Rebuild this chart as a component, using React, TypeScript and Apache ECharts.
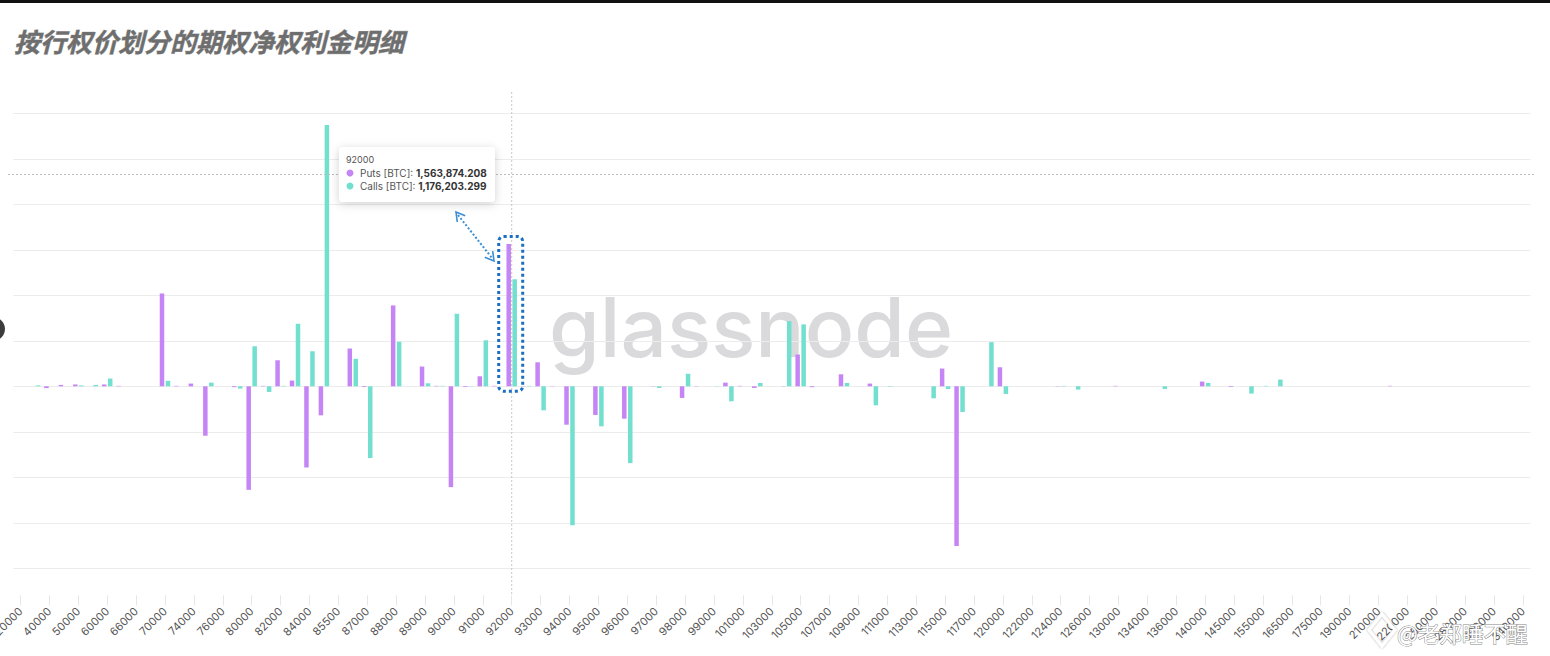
import React, { useEffect, useRef } from 'react';
import * as echarts from 'echarts';

const title = '按行权价划分的期权净权利金明细';

const categories = [
  '20000', '30000', '40000', '45000', '50000', '55000', '60000', '65000', '66000', '68000',
  '70000', '72000', '74000', '75000', '76000', '78000', '80000', '81000', '82000', '83000',
  '84000', '85000', '85500', '86000', '87000', '87500', '88000', '88500', '89000', '89500',
  '90000', '90500', '91000', '91500', '92000', '92500', '93000', '93500', '94000', '94500',
  '95000', '95500', '96000', '96500', '97000', '97500', '98000', '98500', '99000', '100000',
  '101000', '102000', '103000', '104000', '105000', '106000', '107000', '108000', '109000', '110000',
  '111000', '112000', '113000', '114000', '115000', '116000', '117000', '118000', '120000', '121000',
  '122000', '123000', '124000', '125000', '126000', '128000', '130000', '132000', '134000', '135000',
  '136000', '138000', '140000', '142000', '145000', '150000', '155000', '160000', '165000', '170000',
  '175000', '180000', '190000', '200000', '210000', '215000', '220000', '240000', '250000', '260000',
  '280000', '290000', '300000', '320000', '340000',
];

const puts = [
  0, 0, -20000, 15000, 20000, 0, 20000, 5000, 0, 0,
  1020000, 5000, 30000, -543000, 0, -10000, -1138000, 5000, 286000, 63000,
  -892000, -319000, 0, 415000, -8000, 0, 889000, 0, 217000, 5000,
  -1108000, -8000, 110000, 5000, 1563874.208, 3000, 264000, -3000, -422000, 0,
  -315000, 0, -356000, 0, 3000, 0, -128000, 3000, 0, 40000,
  5000, -18000, 0, 3000, 349000, -10000, 0, 132000, 0, 30000,
  0, 0, 0, 0, 195000, -1754000, 0, 0, 209000, 0,
  0, 0, 3000, 0, 0, 0, 5000, 0, 0, 0,
  0, 0, 52000, 0, -8000, 0, 0, 0, 0, 0,
  0, 0, 0, 0, 0, 5000, 0, 0, 0, 0,
  0, 0, 0, 0, 0,
];

const calls = [
  0, 10000, 0, 0, 10000, 15000, 85000, 0, 0, 0,
  60000, 0, 0, 40000, 0, -25000, 440000, -62000, 5000, 687000,
  385000, 2871000, 0, 302000, -789000, 0, 489000, 0, 33000, 5000,
  797000, -3000, 505000, 0, 1176203.299, 5000, -264000, 0, -1527000, 0,
  -440000, 0, -844000, 0, -18000, 0, 138000, 0, 3000, -165000,
  0, 37000, 0, 716000, 680000, 0, 0, 37000, 0, -209000,
  -5000, 0, 0, -132000, -29000, -282000, 0, 485000, -84000, 0,
  0, 0, 5000, -36000, 0, 0, 0, 0, 0, -29000,
  0, 0, 37000, 0, 0, -80000, 5000, 74000, 0, 0,
  0, 0, 0, 0, 0, 0, 0, 0, 0, 0,
  0, 0, 0, 0, 0,
];

const yMin = -2000000;
const yMax = 3000000;
const yInterval = 500000;
const hoverIndex = 34;
const seriesNames = ['Puts [BTC]', 'Calls [BTC]'];
const PURPLE = '#c585f5';
const TEAL = '#72dfcf';

const fmt = (v: number) =>
  v.toLocaleString('en-US', { minimumFractionDigits: 3, maximumFractionDigits: 3 });

export default function App() {
  const ref = useRef<HTMLDivElement>(null);
  useEffect(() => {
    const chart = echarts.init(ref.current!, undefined, { renderer: 'svg' });
    chart.setOption({
      animation: false,
      grid: {
        left: 13.3,
        right: 19.8,
        top: 113.3,
        bottom: 87.7,
        containLabel: false,
        outerBoundsMode: 'none',
      },
      xAxis: {
        type: 'category',
        data: categories,
        offset: 27,
        axisLine: { show: false, onZero: false },
        axisTick: {
          show: true,
          interval: 1,
          alignWithLabel: true,
          length: 10,
          lineStyle: { color: '#e6e6e6' },
        },
        axisLabel: {
          interval: 1,
          rotate: 45,
          fontSize: 11,
          color: '#555',
          fontFamily: 'Inter',
          margin: 14,
        },
        splitLine: { show: false },
      },
      yAxis: {
        type: 'value',
        min: yMin,
        max: yMax,
        interval: yInterval,
        axisLabel: { show: false },
        axisLine: { show: false },
        axisTick: { show: false },
        splitLine: { lineStyle: { color: '#ececec', width: 1 } },
      },
      series: [
        {
          name: seriesNames[0],
          type: 'bar',
          data: puts,
          barWidth: 4.5,
          barGap: '33%',
          itemStyle: { color: PURPLE },
          z: 3,
        },
        {
          name: seriesNames[1],
          type: 'bar',
          data: calls,
          barWidth: 4.5,
          barGap: '33%',
          itemStyle: { color: TEAL },
          z: 3,
        },
      ],
    });

    const [cx, pTop] = chart.convertToPixel({ gridIndex: 0 }, [hoverIndex, puts[hoverIndex]]) as number[];
    const [, zeroY] = chart.convertToPixel({ gridIndex: 0 }, [hoverIndex, 0]) as number[];

    const arrowColor = '#3b8ed2';
    const graphics: any[] = [
      {
        type: 'text',
        x: 751,
        y: 327,
        z: -5,
        style: {
          text: 'glassnode',
          fontSize: 82,
          fontWeight: 500,
          fontFamily: 'Inter',
          fill: '#dadadc',
          align: 'center',
          verticalAlign: 'middle',
        },
      },
      { type: 'rect', shape: { x: 0, y: 0, width: 1550, height: 3 }, style: { fill: '#111' }, z: 50 },
      {
        type: 'text',
        x: 14,
        y: 40,
        z: 50,
        style: {
          text: title,
          fontSize: 26,
          fontWeight: 'bold',
          fontStyle: 'italic',
          fontFamily: '"Noto Sans CJK SC"',
          fill: '#6e6e6e',
          stroke: 'rgba(90,90,90,0.5)',
          lineWidth: 0.8,
          verticalAlign: 'middle',
        },
      },
      { type: 'circle', shape: { cx: -7, cy: 329, r: 12 }, style: { fill: '#3c3c3c' }, z: 50 },
      {
        type: 'line',
        z: 10,
        shape: { x1: cx, y1: 92, x2: cx, y2: 596 },
        style: { stroke: '#c6c6c6', lineWidth: 1, lineDash: [2, 2] },
      },
      {
        type: 'line',
        z: 10,
        shape: { x1: 8, y1: 174.5, x2: 1535, y2: 174.5 },
        style: { stroke: '#bdbdbd', lineWidth: 1, lineDash: [2, 2] },
      },
      {
        type: 'rect',
        z: 20,
        shape: { x: cx - 13, y: pTop - 7.5, width: 24, height: zeroY + 5 - (pTop - 7.5), r: 5 },
        style: { fill: 'none', stroke: '#1b6ec2', lineWidth: 3, lineDash: [3, 3] },
      },
      {
        type: 'line',
        z: 20,
        shape: { x1: 458, y1: 215, x2: 492, y2: 258 },
        style: { stroke: arrowColor, lineWidth: 2, lineDash: [2, 2] },
      },
      {
        type: 'polyline',
        z: 20,
        shape: { points: [[457.3, 222], [456, 212], [465.2, 215.8]] },
        style: { stroke: arrowColor, lineWidth: 1.6, fill: 'none' },
      },
      {
        type: 'polyline',
        z: 20,
        shape: { points: [[492.7, 251.1], [494, 261], [484.8, 257.2]] },
        style: { stroke: arrowColor, lineWidth: 1.6, fill: 'none' },
      },
      {
        type: 'group',
        z: 30,
        children: [
          {
            type: 'rect',
            z: 30,
            shape: { x: 339, y: 147, width: 156, height: 55, r: 4 },
            style: {
              fill: '#fff',
              shadowBlur: 10,
              shadowColor: 'rgba(0,0,0,0.18)',
              shadowOffsetY: 2,
            },
          },
          {
            type: 'text',
            z: 31,
            x: 346,
            y: 159,
            style: {
              text: categories[hoverIndex],
              fontSize: 9,
              fontFamily: 'Inter',
              fill: '#555',
              verticalAlign: 'middle',
            },
          },
          { type: 'circle', z: 31, shape: { cx: 350, cy: 173, r: 3.5 }, style: { fill: PURPLE } },
          {
            type: 'text',
            z: 31,
            x: 360,
            y: 173,
            style: {
              text: `{a|${seriesNames[0]}: }{b|${fmt(puts[hoverIndex])}}`,
              verticalAlign: 'middle',
              rich: {
                a: { fontSize: 10, fontFamily: 'Inter', fill: '#555' },
                b: { fontSize: 10, fontFamily: 'Inter', fontWeight: 'bold', fill: '#333' },
              },
            },
          },
          { type: 'circle', z: 31, shape: { cx: 350, cy: 186, r: 3.5 }, style: { fill: TEAL } },
          {
            type: 'text',
            z: 31,
            x: 360,
            y: 186,
            style: {
              text: `{a|${seriesNames[1]}: }{b|${fmt(calls[hoverIndex])}}`,
              verticalAlign: 'middle',
              rich: {
                a: { fontSize: 10, fontFamily: 'Inter', fill: '#555' },
                b: { fontSize: 10, fontFamily: 'Inter', fontWeight: 'bold', fill: '#333' },
              },
            },
          },
        ],
      },
      {
        type: 'polygon',
        z: 40,
        shape: { points: [[1382, 614], [1395, 630], [1382, 646], [1369, 630]] },
        style: {
          fill: 'none',
          stroke: '#fff',
          lineWidth: 3,
          shadowColor: 'rgba(0,0,0,0.4)',
          shadowBlur: 2,
        },
      },
      {
        type: 'text',
        z: 40,
        x: 1397,
        y: 632,
        style: {
          text: '@老郑睡不醒',
          fontSize: 22,
          fontFamily: '"Noto Sans CJK SC"',
          fill: '#fff',
          stroke: 'rgba(110,110,110,0.85)',
          lineWidth: 1,
          verticalAlign: 'middle',
        },
      },
    ];
    chart.setOption({ graphic: graphics });

    return () => chart.dispose();
  }, []);
  return (
    <div
      ref={ref}
      style={{ position: 'fixed', left: 0, top: 0, width: 1550, height: 656, background: '#fff' }}
    />
  );
}
